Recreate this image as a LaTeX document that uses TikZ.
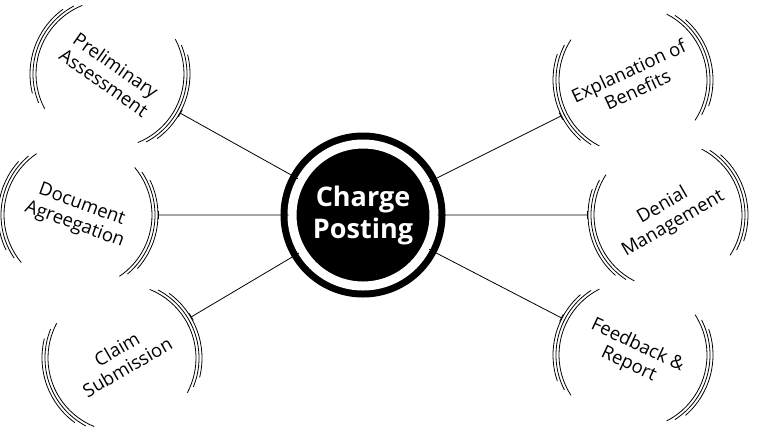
\documentclass[tikz,border=0pt]{standalone}
\usepackage{fontspec}
\setmainfont{Open Sans}
\usetikzlibrary{arrows.meta}
\tikzset{
  sat/.style={circle,minimum size=160pt,inner sep=0pt,align=center,font=\fontsize{18.5}{21}\selectfont},
  hub/.style={circle,fill=black,draw=black,line width=7pt,double=white,double distance=9pt,minimum size=142pt,
    text=white,align=center,font=\bfseries\fontsize{27}{32}\selectfont},
  link/.style={thick,-{Bar[width=8pt]}}
}
\newcommand{\brackets}[2]{% center, rotation
  \begin{scope}[shift={(#1)},rotate=#2,thick]
   \foreach \r/\s in {74/48,77/42,80/34}{
    \draw (180-\s:\r pt) arc (180-\s:180+\s:\r pt);
    \draw (-\s:\r pt) arc (-\s:\s:\r pt);
   }
  \end{scope}
}
\begin{document}
\begin{tikzpicture}[x=1pt,y=-1pt]
 \useasboundingbox (0,0) rectangle (768,432);
 \node[hub] (hub) at (363,215) {Charge\\Posting};

 % satellites
 \node[sat,rotate=-35] (prelim) at (110,74) {Preliminary\\Assessment};
 \node[sat,rotate=-20] (doc) at (78,215) {Document\\Agreegation};
 \node[sat,rotate=30] (claim) at (122,358) {Claim\\Submission};
 \node[sat,rotate=25] (expl) at (633,80) {Explanation of\\Benefits};
 \node[sat,rotate=30] (denial) at (668,215) {Denial\\Management};
 \node[sat,rotate=-25] (feed) at (633,355) {Feedback \&\\Report};

 \brackets{prelim.center}{-20}
 \brackets{doc.center}{-8}
 \brackets{claim.center}{20}
 \brackets{expl.center}{15}
 \brackets{denial.center}{15}
 \brackets{feed.center}{-15}

 % connectors
 \foreach \s in {prelim,doc,claim,expl,denial,feed}
  \draw[link] (hub) -- (\s);
\end{tikzpicture}
\end{document}
